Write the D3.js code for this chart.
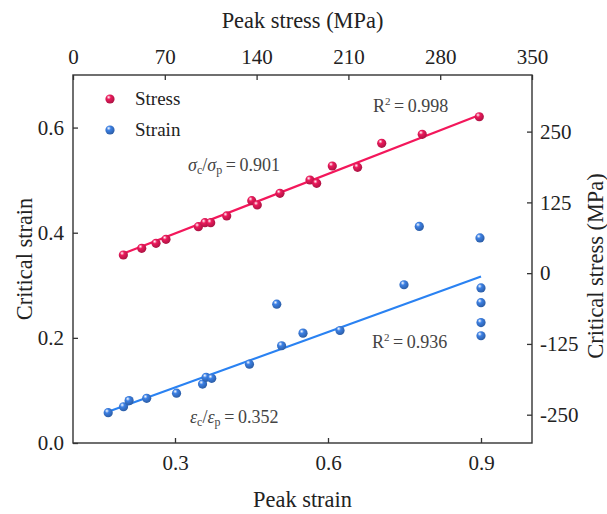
<!DOCTYPE html>
<html><head><meta charset="utf-8">
<script src="https://cdn.jsdelivr.net/npm/d3@7"></script>
<style>html,body{margin:0;padding:0;background:#fff;}svg{display:block;} svg text{font-family:'Liberation Serif','Times New Roman',Times,serif !important;}</style>
</head><body><svg id="c" width="607" height="514"></svg>
<script>
// ---- data ----
const stressPeak = [38.4, 52.4, 63.3, 70.9, 95.6, 100.6, 105, 117.2, 136.3, 140.5, 157.8, 180.7, 185.8, 197.7, 217, 235.4, 266.3, 309.8];
const stressCrit = [32.1, 43.9, 52.7, 59.8, 82.1, 89.1, 89.1, 101, 128, 120.4, 141, 164.5, 158.7, 189.3, 187, 229.4, 245.3, 276.3];
const strainPeak = [0.169, 0.199, 0.21, 0.2445, 0.303, 0.354, 0.361, 0.372, 0.446, 0.4995, 0.509, 0.551, 0.6235, 0.749, 0.779, 0.898, 0.9, 0.9, 0.9, 0.9];
const strainCrit = [0.0577, 0.069, 0.0806, 0.085, 0.0947, 0.112, 0.125, 0.123, 0.150, 0.264, 0.185, 0.209, 0.214, 0.301, 0.412, 0.390, 0.295, 0.267, 0.229, 0.204];
const stressSlope = 0.901, strainSlope = 0.352;
const stressFitRange = [37, 310], strainFitRange = [0.17, 0.9];
const bottomTicks = [0.3, 0.6, 0.9];
const topTicks = [0, 70, 140, 210, 280, 350];
const leftTicks = [0.0, 0.2, 0.4, 0.6];
const rightTicks = [-250, -125, 0, 125, 250];
const seriesNames = ["Stress", "Strain"];
const colors = {Stress: "#ec1a5c", Strain: "#3c80e4"};
const lineColors = {Stress: "#f3175b", Strain: "#2a82f2"};

// ---- layout ----
const FONT = "'Liberation Serif', 'Times New Roman', serif";
const L = 73, R = 532, T = 75, B = 443;
const svg = d3.select("#c");
const xB = d3.scaleLinear().domain([0.1, 1.0]).range([L, R]);
const xT = d3.scaleLinear().domain([0, 350]).range([L, R]);
const yL = d3.scaleLinear().domain([0, 0.7]).range([B, T]);
const yR = d3.scaleLinear().domain([-300, 350]).range([B, T]);

// gradients
const defs = svg.append("defs");
function grad(id, c) {
  const g = defs.append("radialGradient").attr("id", id).attr("cx", "40%").attr("cy", "35%").attr("r", "65%").attr("fx", "35%").attr("fy", "30%");
  g.append("stop").attr("offset", "0%").attr("stop-color", "#ffffff");
  g.append("stop").attr("offset", "35%").attr("stop-color", c);
  g.append("stop").attr("offset", "100%").attr("stop-color", d3.color(c).darker(0.9));
}
grad("gS", colors.Stress); grad("gE", colors.Strain);

// axes (ticks inward)
const fs = 21, tfs = 22.4;
function styleAxis(g) {
  g.attr("font-family", FONT);
  g.select(".domain").remove();
  g.selectAll(".tick line").attr("stroke", "#333").attr("stroke-width", 1.3);
  g.selectAll(".tick text").attr("font-size", fs).attr("fill", "#222").attr("font-family", FONT);
}
svg.append("g").attr("transform", `translate(0,${B})`)
  .call(d3.axisBottom(xB).tickValues(bottomTicks).tickFormat(d3.format(".1f")).tickSizeInner(-5).tickPadding(12))
  .call(styleAxis);
svg.append("g").attr("transform", `translate(0,${T})`)
  .call(d3.axisTop(xT).tickValues(topTicks).tickFormat(d3.format("d")).tickSizeInner(-5).tickPadding(11))
  .call(styleAxis);
svg.append("g").attr("transform", `translate(${L},0)`)
  .call(d3.axisLeft(yL).tickValues(leftTicks).tickFormat(d3.format(".1f")).tickSizeInner(-5).tickPadding(9))
  .call(styleAxis);
svg.append("g").attr("transform", `translate(${R},0)`)
  .call(d3.axisRight(yR).tickValues(rightTicks).tickFormat(d => d < 0 ? "-" + Math.abs(d) : d).tickSizeInner(-5).tickPadding(8))
  .call(styleAxis);

// frame
svg.append("rect").attr("x", L).attr("y", T).attr("width", R - L).attr("height", B - T)
  .attr("fill", "none").attr("stroke", "#333").attr("stroke-width", 1.4);

// titles
function title(x, y, rot, s) {
  svg.append("text").attr("transform", `translate(${x},${y})` + (rot ? " rotate(-90)" : ""))
    .attr("text-anchor", "middle").attr("font-size", tfs).attr("font-family", FONT).attr("fill", "#222").text(s);
}
title((L + R) / 2, 28, false, "Peak stress (MPa)");
title((L + R) / 2, 507, false, "Peak strain");
title(32, (T + B) / 2, true, "Critical strain");
title(603, 266, true, "Critical stress (MPa)");

// fit lines
svg.append("line")
  .attr("x1", xT(stressFitRange[0])).attr("y1", yR(stressFitRange[0] * stressSlope))
  .attr("x2", xT(stressFitRange[1])).attr("y2", yR(stressFitRange[1] * stressSlope))
  .attr("stroke", lineColors.Stress).attr("stroke-width", 2.2);
svg.append("line")
  .attr("x1", xB(strainFitRange[0])).attr("y1", yL(strainFitRange[0] * strainSlope))
  .attr("x2", xB(strainFitRange[1])).attr("y2", yL(strainFitRange[1] * strainSlope))
  .attr("stroke", lineColors.Strain).attr("stroke-width", 2.2);

// points
const rr = 4.6;
svg.append("g").selectAll("circle").data(stressPeak.map((d, i) => [d, stressCrit[i]])).join("circle")
  .attr("cx", d => xT(d[0])).attr("cy", d => yR(d[1])).attr("r", rr).attr("fill", "url(#gS)");
svg.append("g").selectAll("circle").data(strainPeak.map((d, i) => [d, strainCrit[i]])).join("circle")
  .attr("cx", d => xB(d[0])).attr("cy", d => yL(d[1])).attr("r", rr).attr("fill", "url(#gE)");

// legend
const lg = svg.append("g");
seriesNames.forEach((n, i) => {
  lg.append("circle").attr("cx", 110).attr("cy", 99 + i * 31).attr("r", rr).attr("fill", i === 0 ? "url(#gS)" : "url(#gE)");
  lg.append("text").attr("x", 135).attr("y", 99 + i * 31 + 6).attr("font-size", 19).attr("font-family", FONT).attr("fill", "#222").text(n);
});

// annotations
const afs = 18;
function ratio(x, y, sym, sub1, sub2, val) {
  const t = svg.append("text").attr("x", x).attr("y", y).attr("font-size", afs).attr("font-family", FONT).attr("fill", "#444");
  t.append("tspan").attr("font-style", "italic").text(sym);
  t.append("tspan").attr("font-size", 12).attr("dy", 3).text(sub1);
  t.append("tspan").attr("dy", -3).text("/");
  t.append("tspan").attr("font-style", "italic").text(sym);
  t.append("tspan").attr("font-size", 12).attr("dy", 3).text(sub2);
  t.append("tspan").attr("dy", -3).text("\u2009=\u20090." + val.split(".")[1]);
}
function r2(x, y, val) {
  const t = svg.append("text").attr("x", x).attr("y", y).attr("font-size", afs).attr("font-family", FONT).attr("fill", "#444");
  t.append("tspan").text("R");
  t.append("tspan").attr("font-size", 11).attr("dy", -7).text("2");
  t.append("tspan").attr("dy", 7).text("\u2009=\u2009" + val);
}
ratio(188, 171, "σ", "c", "p", "0.901");
ratio(190, 423, "ε", "c", "p", "0.352");
r2(373, 112, "0.998");
r2(372, 348, "0.936");
</script></body></html>
